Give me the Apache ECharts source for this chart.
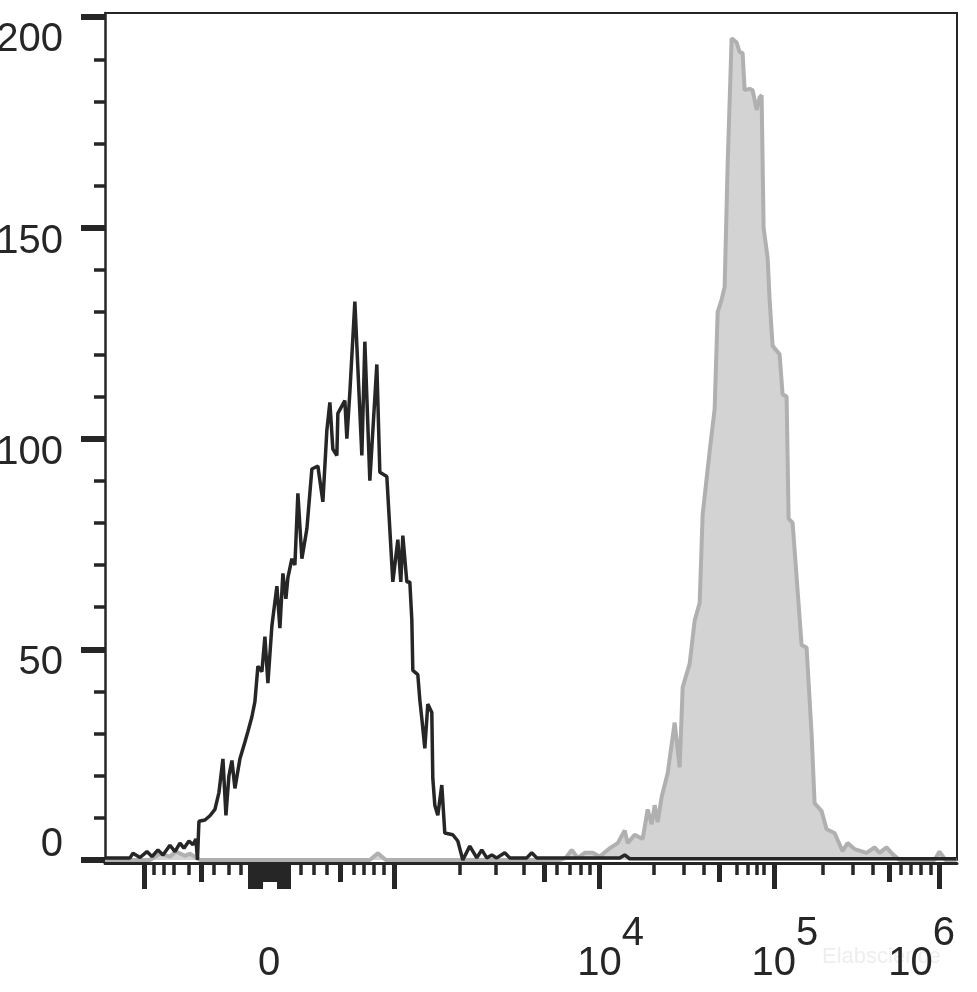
<!DOCTYPE html>
<html><head><meta charset="utf-8">
<script src="https://cdn.jsdelivr.net/npm/echarts@6/dist/echarts.min.js"></script>
<style>html,body{margin:0;padding:0;background:#fff}#c{width:977px;height:992px}</style>
</head><body><div id="c"></div>
<script>
// x values are display channels (0..1023) of the biexponential axis; y = count
const blackX = [0,30,33.6,42,50.4,56.4,63.6,69.6,78,84,90,94.8,100.8,105.6,109.2,111,112.8,120,126,132,136.8,141.6,145.2,148.8,152.4,156,162,168,171.6,176.4,180,183.6,188.4,192,195.6,200.4,206.4,210,213.6,217.2,219.6,224.4,228,231.6,236.4,242.4,248.4,255.6,261.6,266.4,270,273.6,278.4,279.6,288,290.4,294,300,308.4,312,318,326.4,330,338.4,345.6,351.6,355.2,357.6,362.4,366,368.4,369.6,375.6,378,380.4,384,387.6,392.4,393.6,396,399.6,404.4,408,417.6,423.6,429.6,438,446.4,452.4,458.4,464.4,470.4,480,486,506.4,512.4,518.4,618,624,630,1022];
const blackY = [0.5,0.5,1.6,0.6,2,0.8,2.4,1.2,3.5,2,4,2.8,4.5,3.6,5,0,9.2,9.5,10.5,12,16,24,10.6,20,23.6,17,24,28,30.5,34,37.6,46,44.7,53,42,55.6,65,55,68,62,67,71.5,70,87,71.5,78.6,92.8,93.5,85,102,108.6,97.5,96,106,109,100,111,132.5,96,123,90,117.6,92,91,66,76,66,77,66,66,57,45,44,38,33.6,26.5,37,35,19.4,13,10.6,17.8,6.4,6,4.5,0,3.3,0.5,2.4,0.5,1.2,0.5,1.7,0.5,0.5,1.7,0.5,0.5,1.2,0.3,0.3];
const grayX = [0,54,66,78,85.2,96,102,114,318,327.6,337.2,546,553.2,560.4,567.6,576,585.6,594,606,615.6,624,627.6,636,645.6,651.6,656.4,660,663.6,668.4,675.6,684,690,693.6,702,708,714,717.6,726,732,735.6,740.4,744,747.6,752.4,758.4,762,765.6,768,774,777.6,782.4,786,788.4,790.8,795.6,798,801.6,810,813.6,818.4,820.8,825.6,831.6,836.4,842.4,848.4,852,860.4,866.4,876,885.6,891.6,900,914.4,924,930,938.4,945.6,954,996,1002,1009.2,1022.4];
const grayY = [0,0,1.5,0.8,2,1,1.5,0,0,1.6,0,0,0.5,2.4,0.5,1.7,1.7,0.8,2.8,4,7,4,6,5,12,8.5,13,9,15,20.6,32.6,22,41,46.6,56.8,61,82,97,107,130,133,136,165,195,194,191.7,191.5,182.7,183,182.7,178,181,181.5,150,143,133,122,120,110.5,110,81,80,64,51,50.4,30,13.5,11.6,7.3,6.4,2.1,4,2.6,1.7,3,1.7,3,1.4,0,0,2,0,0];

// axis ticks (channel positions)
const xLongTicks = [47,174,177,180,183,186,209,212,215,218,220,347,594,803,1002];
const xMediumTicks = [115,189,192,195,198,201,204,282,527,737,942];
const xShortTicks = [59,70,82,100,131,148,163,235,251,266,299,311,323,335,426,469,503,542,558,571,582,659,695,719,758,772,782,791,862,898,922,956,968,980,992];
const xLabelPos = [197,594,803,1002];
const xLabelBase = ['0','10','10','10'];
const xLabelExp = ['','4','5','6'];
const yMajor = [0,50,100,150,200];
const yMinor = [10,20,30,40,60,70,80,90,110,120,130,140,160,170,180,190];

const FONT = 'Liberation Sans';
const INK = '#262626';
const XMAX = 1023, YMAX = 201;

function zip(a,b){return a.map((v,i)=>[v,b[i]]);}

const gridBox = {left:105,right:20,top:13,bottom:132,containLabel:false,outerBoundsMode:'none'};
const chart = echarts.init(document.getElementById('c'), null, {renderer:'canvas'});

function baseX(idx, extra){
  return Object.assign({gridIndex:idx,type:'value',min:0,max:XMAX,position:'bottom',offset:3,
    splitLine:{show:false},axisLine:{show:false,onZero:false},axisLabel:{show:false},axisTick:{show:false}}, extra);
}
function baseY(idx, extra){
  return Object.assign({gridIndex:idx,type:'value',min:0,max:YMAX,position:'left',
    splitLine:{show:false},axisLine:{show:false,onZero:false},axisLabel:{show:false},axisTick:{show:false}}, extra);
}
const txt = {fontSize:40,fontFamily:FONT,color:INK};

chart.setOption({
  animation:false,
  backgroundColor:'#fff',
  grid:[gridBox,gridBox,gridBox].map(g=>Object.assign({},g)),
  xAxis:[
    baseX(0,{
      axisLine:{show:true,onZero:false,lineStyle:{color:INK,width:3}},
      axisTick:{show:true,customValues:xLongTicks,length:26,lineStyle:{color:INK,width:5}},
      axisLabel:{show:true,customValues:xLabelPos,margin:51,
        formatter:function(v){
          let i=0,d=1e9; xLabelPos.forEach((p,k)=>{if(Math.abs(p-v)<d){d=Math.abs(p-v);i=k;}});
          if(!xLabelExp[i]) return '{b|'+xLabelBase[i]+'}';
          if(i===xLabelPos.length-1) return '{b|'+xLabelBase[i]+'}{sr|'+xLabelExp[i]+'}';
          return '{bp|'+xLabelBase[i]+'}{s|'+xLabelExp[i]+'}';
        },
        rich:{
          b:Object.assign({lineHeight:70,verticalAlign:'bottom'},txt),
          bp:Object.assign({lineHeight:70,verticalAlign:'bottom',padding:[0,0,0,22]},txt),
          s:Object.assign({verticalAlign:'top'},txt),
          sr:Object.assign({verticalAlign:'top',padding:[0,36,0,0]},txt)
        }}
    }),
    baseX(1,{axisTick:{show:true,customValues:xMediumTicks,length:19,lineStyle:{color:INK,width:5}}}),
    baseX(2,{axisTick:{show:true,customValues:xShortTicks,length:12,lineStyle:{color:INK,width:3.5}}}),
    baseX(2,{position:'top',offset:0,axisLine:{show:true,onZero:false,lineStyle:{color:INK,width:2}}})
  ],
  yAxis:[
    baseY(0,{
      axisLine:{show:true,onZero:false,lineStyle:{color:INK,width:2.5}},
      axisTick:{show:true,customValues:yMajor,length:24,lineStyle:{color:INK,width:6}},
      axisLabel:{show:true,customValues:yMajor,margin:42,
        formatter:function(v){
          const r = Math.round(v);
          if(r===200) return '{t|'+r+'}';
          if(r===0) return '{z|'+r+'}';
          return '{m|'+r+'}';
        },
        rich:{
          m:Object.assign({padding:[28,0,0,0]},txt),
          t:Object.assign({padding:[46,0,0,0]},txt),
          z:Object.assign({padding:[0,0,30,0]},txt)
        }}
    }),
    baseY(1,{axisTick:{show:true,customValues:yMinor,length:11,lineStyle:{color:INK,width:3.5}}}),
    baseY(2,{position:'right',axisLine:{show:true,onZero:false,lineStyle:{color:INK,width:2}}})
  ],
  graphic:[{type:'text',left:822,top:946,silent:true,
    style:{text:'Elabscience',fontSize:22,fontFamily:FONT,fill:'#eeeeee'}}],
  series:[
    {type:'line',xAxisIndex:0,yAxisIndex:0,data:zip(grayX,grayY),showSymbol:false,symbol:'none',
      lineStyle:{color:'#b0b0b0',width:4},areaStyle:{color:'#d3d3d3',opacity:1},z:2},
    {type:'line',xAxisIndex:0,yAxisIndex:0,data:zip(blackX,blackY),showSymbol:false,symbol:'none',
      lineStyle:{color:INK,width:3.5},z:3}
  ]
});
</script>
</body></html>
